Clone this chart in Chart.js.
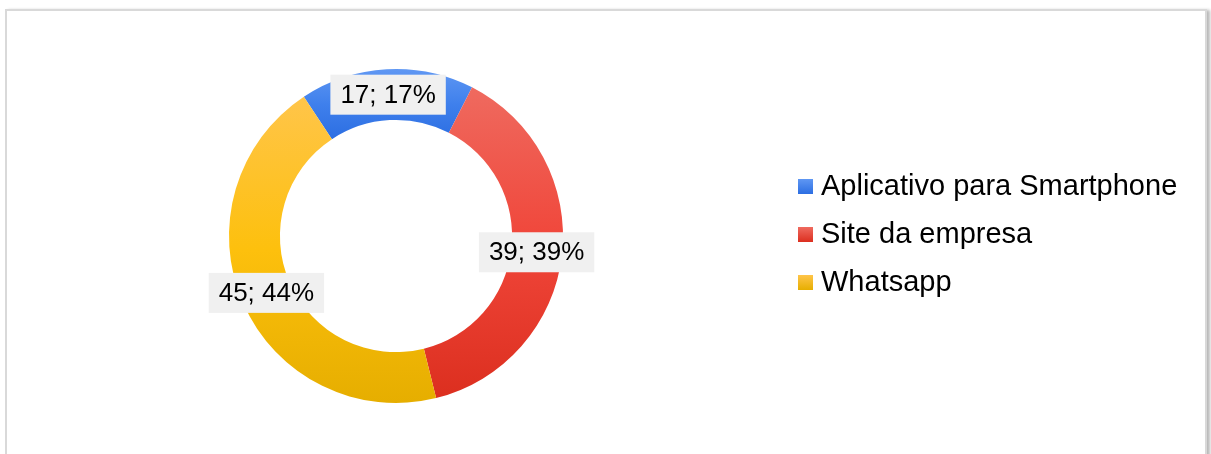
<!DOCTYPE html>
<html lang="pt">
<head>
    <meta charset="UTF-8">
    <title>Canais</title>
    <style>
        html, body { margin: 0; padding: 0; background: #fff; overflow: hidden; }
        .frame {
            position: absolute; left: 5px; top: 9px; width: 1198px; height: 520px;
            border: 2px solid #d9d9d9;
            box-shadow: 3px 1px 3px rgba(0, 0, 0, 0.28);
        }
        .wrap { position: absolute; left: 0; top: 0; width: 1211px; height: 454px; }
    </style>
    <script src="https://cdn.jsdelivr.net/npm/chart.js"></script>
</head>
<body>
    <div class="frame"></div>
    <div class="wrap"><canvas id="viz"></canvas></div>
    <script>
        const categories = ['Aplicativo para Smartphone', 'Site da empresa', 'Whatsapp']
        const values = [17, 39, 45]
        const percentLabels = [17, 39, 44]
        const topColors = ['#5f97f3', '#ef6a5f', '#ffc54a']
        const midColors = ['#3f80ec', '#f0463a', '#fdc00d']
        const bottomColors = ['#2c6ee2', '#dc2f1f', '#e6ae00']

        const FONT = '"Liberation Sans", Arial, sans-serif'

        // vertical gradient over each slice's own height
        const sliceGradients = {
            id: 'sliceGradients',
            beforeDatasetsDraw(chart) {
                const ctx = chart.ctx
                chart.getDatasetMeta(0).data.forEach((arc, i) => {
                    const p = arc.getProps(['x', 'y', 'startAngle', 'endAngle', 'innerRadius', 'outerRadius'], true)
                    let minY = Infinity, maxY = -Infinity
                    for (let k = 0; k <= 60; k++) {
                        const a = p.startAngle + (p.endAngle - p.startAngle) * k / 60
                        for (const r of [p.innerRadius, p.outerRadius]) {
                            const yy = p.y + r * Math.sin(a)
                            minY = Math.min(minY, yy)
                            maxY = Math.max(maxY, yy)
                        }
                    }
                    const g = ctx.createLinearGradient(0, minY, 0, maxY)
                    g.addColorStop(0, topColors[i])
                    g.addColorStop(0.5, midColors[i])
                    g.addColorStop(1, bottomColors[i])
                    arc.options.backgroundColor = g
                })
            }
        }

        const valueLabels = {
            id: 'valueLabels',
            afterDatasetsDraw(chart) {
                const ctx = chart.ctx
                ctx.save()
                ctx.font = '26px ' + FONT
                ctx.textAlign = 'center'
                ctx.textBaseline = 'middle'
                chart.getDatasetMeta(0).data.forEach((arc, i) => {
                    const pos = arc.tooltipPosition()
                    const text = values[i] + '; ' + percentLabels[i] + '%'
                    const w = ctx.measureText(text).width + 20
                    const h = 40
                    ctx.fillStyle = '#f0f0f0'
                    ctx.fillRect(pos.x - w / 2, pos.y - h / 2, w, h)
                    ctx.fillStyle = '#000'
                    ctx.fillText(text, pos.x, pos.y + 1)
                })
                ctx.restore()
            }
        }

        const sideLegend = {
            id: 'sideLegend',
            afterDraw(chart) {
                const ctx = chart.ctx
                ctx.save()
                ctx.font = '29px ' + FONT
                ctx.textBaseline = 'alphabetic'
                categories.forEach((name, i) => {
                    const base = 195 + i * 48
                    const g = ctx.createLinearGradient(0, base - 16, 0, base - 1)
                    g.addColorStop(0, topColors[i])
                    g.addColorStop(1, bottomColors[i])
                    ctx.fillStyle = g
                    ctx.fillRect(798, base - 16, 15, 15)
                    ctx.fillStyle = '#000'
                    ctx.fillText(name, 821, base)
                })
                ctx.restore()
            }
        }

        new Chart(document.getElementById('viz'), {
            type: 'doughnut',
            data: {
                labels: categories,
                datasets: [{
                    data: values,
                    backgroundColor: topColors,
                    borderWidth: 0
                }]
            },
            options: {
                responsive: true,
                maintainAspectRatio: false,
                animation: false,
                cutout: '69.5%',
                rotation: -33.5,
                layout: { padding: { left: 229, right: 648, top: 69, bottom: 51 } },
                plugins: {
                    legend: { display: false },
                    tooltip: { enabled: false }
                }
            },
            plugins: [sliceGradients, valueLabels, sideLegend]
        })
    </script>
</body>
</html>
